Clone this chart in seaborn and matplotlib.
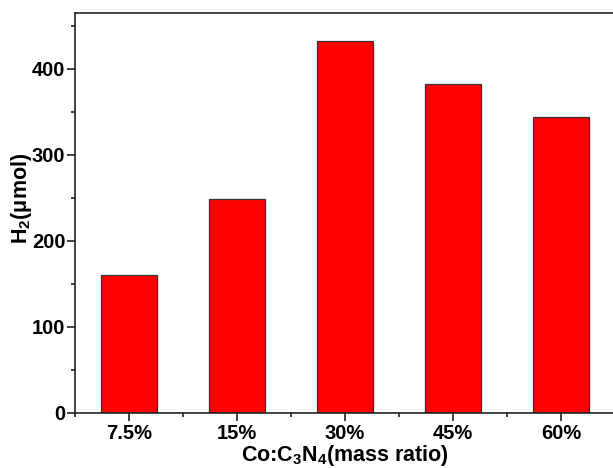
import matplotlib
matplotlib.use("Agg")
import matplotlib.pyplot as plt
import seaborn as sns
import pandas as pd
from matplotlib.ticker import MultipleLocator, FixedLocator

categories = ["7.5%", "15%", "30%", "45%", "60%"]
h2_values = [160, 249, 432, 382, 344]

sns.set_style("ticks")
plt.rcParams['font.family'] = ['Liberation Sans', 'DejaVu Sans']
plt.rcParams['font.weight'] = 'bold'
plt.rcParams['text.color'] = 'black'
plt.rcParams['axes.labelcolor'] = 'black'
plt.rcParams['xtick.color'] = 'black'
plt.rcParams['ytick.color'] = 'black'
plt.rcParams['mathtext.fontset'] = 'custom'
plt.rcParams['mathtext.rm'] = 'Liberation Sans:bold'
plt.rcParams['mathtext.it'] = 'Liberation Sans:bold'
plt.rcParams['mathtext.bf'] = 'Liberation Sans:bold'
plt.rcParams['mathtext.default'] = 'rm'

df = pd.DataFrame({"ratio": categories, "h2": h2_values})

fig = plt.figure(figsize=(6.13, 4.68), dpi=100)
ax = fig.add_axes([75/613, 55/468, 540/613, 400.3/468])

sns.barplot(data=df, x="ratio", y="h2", ax=ax, color="#ff0000", saturation=1,
            width=0.51, edgecolor="#333333", linewidth=0.9)

ax.set_xlim(-0.5, 4.5)
ax.set_ylim(0, 465)
ax.yaxis.set_major_locator(MultipleLocator(100))
ax.yaxis.set_minor_locator(MultipleLocator(50))
ax.xaxis.set_minor_locator(FixedLocator([-0.5, 0.5, 1.5, 2.5, 3.5, 4.5]))

for s in ax.spines.values():
    s.set_linewidth(1.2)
    s.set_color("#222222")

ax.tick_params(axis='both', which='major', direction='out', length=6, width=1.2,
               labelsize=14.5, color="#222222", labelcolor="black")
ax.tick_params(axis='both', which='minor', direction='out', length=3, width=1.2,
               color="#222222")
ax.tick_params(axis='y', pad=1)
ax.tick_params(axis='x', pad=2)

ax.set_xlabel(r"Co:C$_3$N$_4$(mass ratio)", fontsize=15.5, fontweight='bold',
              labelpad=0, color="black")
ax.set_ylabel("H$_2$(\u03bcmol)", fontsize=15.5, fontweight='bold', color="black")
ax.yaxis.set_label_coords(-0.076, 0.535)

fig.savefig("out.png", dpi=100)
